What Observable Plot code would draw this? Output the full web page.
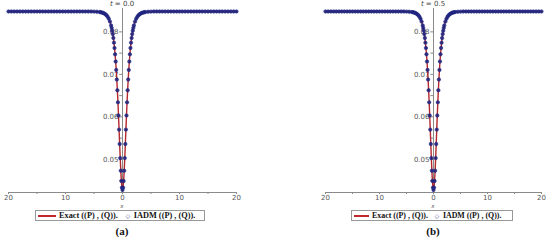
<!DOCTYPE html>
<html>
<head>
<meta charset="utf-8">
<script src="https://cdn.jsdelivr.net/npm/d3@7"></script>
<script src="https://cdn.jsdelivr.net/npm/@observablehq/plot@0.6"></script>
<style>
  html, body { margin: 0; padding: 0; background: #fff; }
  #root { position: relative; width: 550px; height: 244px; overflow: hidden; background: #fff; }
  .abs { position: absolute; white-space: nowrap; }
  .tlab { font: 7px "DejaVu Sans", sans-serif; color: #444; transform: translateX(-50%); }
  .xlab { font: italic 5.5px "DejaVu Sans", sans-serif; color: #555; transform: translateX(-50%); }
  .legend { border: 1px solid #999; box-sizing: border-box; display: flex; align-items: center;
            font: bold 8px "Liberation Serif", serif; color: #111; background: #fff; }
  .cap { font: bold 11px "Liberation Serif", serif; color: #111; transform: translateX(-50%); }
</style>
</head>
<body>
<div id="root"></div>
<script>
// x positions (same grid for the exact line and the IADM points)
const xs = [-20,-19.5,-19,-18.5,-18,-17.5,-17,-16.5,-16,-15.5,-15,-14.5,-14,-13.5,-13,-12.5,-12,-11.5,-11,-10.5,
  -10,-9.5,-9,-8.5,-8,-7.5,-7,-6.5,-6,-5.5,-5,-4.5,-4,-3.8,-3.6,-3.4,-3.2,-3,-2.8,-2.6,-2.4,-2.2,
  -2,-1.9,-1.8,-1.7,-1.6,-1.5,-1.4,-1.3,-1.2,-1.1,-1,-0.9,-0.8,-0.7,-0.6,-0.5,-0.4,-0.3,-0.2,-0.1,
  0,
  0.1,0.2,0.3,0.4,0.5,0.6,0.7,0.8,0.9,1,1.1,1.2,1.3,1.4,1.5,1.6,1.7,1.8,1.9,2,
  2.2,2.4,2.6,2.8,3,3.2,3.4,3.6,3.8,4,4.5,5,5.5,6,6.5,7,7.5,8,8.5,9,9.5,10,
  10.5,11,11.5,12,12.5,13,13.5,14,14.5,15,15.5,16,16.5,17,17.5,18,18.5,19,19.5,20];

// |(P),(Q)| values, t = 0.0
const yT00 = [0.0848,0.0848,0.0848,0.0848,0.0848,0.0848,0.0848,0.0848,0.0848,0.0848,0.0848,0.0848,0.0848,0.0848,0.0848,
  0.0848,0.0848,0.0848,0.0848,0.0848,0.0848,0.0848,0.0848,0.0848,0.0848,0.0848,0.0848,0.0848,0.0848,0.0848,
  0.08477,0.08474,0.08467,0.08462,0.08455,0.08446,0.08433,0.08415,0.0839,0.08356,0.08308,0.08242,
  0.08152,0.08094,0.08026,0.07947,0.07855,0.07746,0.0762,0.07472,0.07302,0.07105,0.0688,0.06626,0.06342,0.06031,
  0.057,0.05361,0.0503,0.04732,0.04491,0.04335,
  0.0428,
  0.04335,0.04491,0.04732,0.0503,0.05361,0.057,0.06031,0.06342,0.06626,0.0688,0.07105,0.07302,0.07472,0.0762,
  0.07746,0.07855,0.07947,0.08026,0.08094,0.08152,
  0.08242,0.08308,0.08356,0.0839,0.08415,0.08433,0.08446,0.08455,0.08462,0.08467,0.08474,0.08477,
  0.0848,0.0848,0.0848,0.0848,0.0848,0.0848,0.0848,0.0848,0.0848,0.0848,0.0848,0.0848,0.0848,0.0848,0.0848,
  0.0848,0.0848,0.0848,0.0848,0.0848,0.0848,0.0848,0.0848,0.0848,0.0848,0.0848,0.0848,0.0848,0.0848,0.0848];

// panel (b), t = 0.5: visually the same profile
const yT05 = yT00.slice();

const xTicks = [-20,-15,-10,-5,0,5,10,15,20];
const xTickLabels = ["20","","10","","0","","10","","20"];
const yTicks = [0.05,0.06,0.07,0.08];
const yMinorTicks = [0.045,0.055,0.065,0.075];
const yDomain = [0.0422, 0.0855];

const root = document.getElementById("root");

function panel({ys, left, width, mL, mR, tText, cap, legLeft, legWidth, legFont, lineW, gap1, markW}) {
  const data = xs.map((x, i) => ({x, y: ys[i]}));
  const chart = Plot.plot({
    width, height: 215,
    marginLeft: mL, marginRight: mR, marginTop: 8, marginBottom: 23,
    x: {domain: [-20, 20], axis: null},
    y: {domain: yDomain, axis: null},
    style: {fontFamily: "DejaVu Sans, sans-serif", fontSize: "7px", color: "#555", background: "transparent", overflow: "visible"},
    marks: [
      Plot.ruleY([yDomain[0]], {stroke: "#8a8a8a", strokeWidth: 1}),
      Plot.axisX({ticks: xTicks, tickFormat: d => xTickLabels[xTicks.indexOf(d)], tickSize: 2, tickPadding: 1,
                  stroke: "#8a8a8a", fill: "#555", label: null}),
      Plot.ruleX([0], {stroke: "#8a8a8a", strokeWidth: 1}),
      Plot.ruleY(yTicks.concat(yMinorTicks), {x1: -0.5, x2: 0, stroke: "#8a8a8a"}),
      Plot.text(yTicks, {x: 0, y: d => d, text: d => d.toFixed(2), textAnchor: "end", dx: -4, fill: "#555"}),
      Plot.line(data, {x: "x", y: "y", stroke: "#b3282d", strokeWidth: 1.4}),
      Plot.dot(data, {x: "x", y: "y", symbol: "circle", r: 1.7, stroke: "#1f2580", strokeWidth: 0.6,
                      fill: "#1f2580", fillOpacity: 0.9})
    ]
  });
  chart.style.position = "absolute";
  chart.style.left = left + "px";
  chart.style.top = "0px";
  root.appendChild(chart);

  const cx = left + mL + (width - mL - mR) / 2;
  const t = document.createElement("div");
  t.className = "abs tlab";
  t.style.left = cx + "px"; t.style.top = "0px";
  t.innerHTML = "<i>t</i> = " + tText;
  root.appendChild(t);

  const xl = document.createElement("div");
  xl.className = "abs xlab";
  xl.style.left = cx + "px"; xl.style.top = "203px";
  xl.textContent = "x";
  root.appendChild(xl);

  const lg = document.createElement("div");
  lg.className = "abs legend";
  lg.style.left = legLeft + "px"; lg.style.top = "210px";
  lg.style.width = legWidth + "px"; lg.style.height = "11px";
  lg.style.fontSize = legFont + "px";
  lg.innerHTML =
    `<span style="display:inline-block;width:${lineW}px;height:2px;background:#c0282d;margin-left:2px;margin-right:3px"></span>` +
    `<span>Exact ((P) , (Q)).</span>` +
    `<span style="display:inline-block;width:${markW}px;text-align:center;margin-left:${gap1}px;color:#1f2580;font:6px 'DejaVu Sans',sans-serif">◇</span>` +
    `<span style="margin-left:2px">IADM ((P) , (Q)).</span>`;
  root.appendChild(lg);

  const c = document.createElement("div");
  c.className = "abs cap";
  c.style.left = cx + "px"; c.style.top = "225px";
  c.textContent = cap;
  root.appendChild(c);
}

panel({ys: yT00, left: 0, width: 250, mL: 8, mR: 14, tText: "0.0", cap: "(a)",
       legLeft: 35, legWidth: 170, legFont: 8.3, lineW: 18, gap1: 6, markW: 8});
panel({ys: yT05, left: 300, width: 250, mL: 25, mR: 9, tText: "0.5", cap: "(b)",
       legLeft: 351, legWidth: 162, legFont: 7.9, lineW: 15, gap1: 5, markW: 8});
</script>
</body>
</html>
